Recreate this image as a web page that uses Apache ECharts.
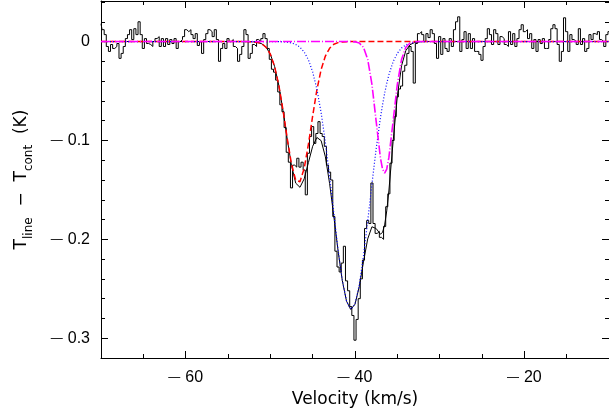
<!DOCTYPE html>
<html>
<head>
<meta charset="utf-8">
<script src="https://cdn.jsdelivr.net/npm/echarts@6/dist/echarts.min.js"></script>
<style>
  html, body { margin: 0; padding: 0; background: #ffffff; }
  #chart { width: 609px; height: 414px; }
</style>
</head>
<body>
<div id="chart"></div>
<script>
// Spectrum: first channel velocity and channel spacing (km/s)
const velStart = -70;
const chanWidth = 0.25;

// Observed line-minus-continuum temperature per channel (K)
const channelValues = [
  0.018, 0.012, 0.007, -0.005, -0.010, -0.003, -0.007, -0.005, -0.002, -0.017,
  -0.012, -0.005, 0.003, 0.007, 0.012, 0.002, 0.013, 0.007, 0.020, 0.007,
  -0.007, 0.003, -0.002, -0.003, -0.005, 0.000, 0.003, 0.005, -0.005, 0.003,
  -0.005, 0.003, -0.003, 0.002, -0.002, 0.003, -0.007, 0.000, 0.002, 0.005,
  0.012, 0.010, 0.012, 0.007, 0.003, 0.008, -0.004, 0.000, -0.012, 0.002,
  0.008, 0.012, 0.010, 0.005, 0.012, 0.002, -0.020, -0.007, -0.002, -0.007,
  0.003, 0.000, 0.002, -0.005, -0.007, -0.020, -0.013, -0.005, 0.012, 0.007,
  -0.017, -0.012, -0.003, -0.005, 0.002, 0.000, 0.003, 0.008, 0.003, -0.007,
  -0.018, -0.028, -0.031, -0.039, -0.051, -0.064, -0.071, -0.087, -0.112, -0.122,
  -0.148, -0.125, -0.127, -0.118, -0.127, -0.122, -0.130, -0.155, -0.113, -0.096,
  -0.086, -0.103, -0.093, -0.081, -0.093, -0.096, -0.106, -0.125, -0.132, -0.140,
  -0.177, -0.212, -0.228, -0.233, -0.224, -0.207, -0.242, -0.252, -0.268, -0.277,
  -0.302, -0.281, -0.260, -0.240, -0.221, -0.189, -0.181, -0.184, -0.143, -0.184,
  -0.194, -0.192, -0.198, -0.200, -0.187, -0.167, -0.154, -0.123, -0.100, -0.076,
  -0.056, -0.048, -0.045, -0.030, -0.024, -0.012, -0.005, -0.010, -0.042, -0.002,
  0.008, 0.010, 0.007, 0.000, 0.008, 0.004, 0.012, 0.008, -0.002, -0.017,
  0.005, -0.013, 0.003, -0.007, -0.010, 0.003, -0.005, 0.012, 0.020, 0.025,
  -0.010, 0.002, 0.010, -0.007, 0.008, -0.007, 0.003, -0.010, -0.010, -0.013,
  -0.019, -0.005, 0.003, 0.013, 0.007, -0.003, 0.012, 0.008, -0.003, 0.005,
  0.003, -0.003, -0.005, 0.010, -0.003, 0.008, -0.005, 0.003, 0.012, 0.017,
  0.010, 0.012, 0.003, 0.008, -0.007, 0.002, -0.010, 0.002, -0.002, 0.003,
  -0.007, -0.007, 0.002, 0.013, 0.017, 0.013, -0.003, -0.020, -0.010, 0.024,
  0.010, -0.010, 0.007, 0.002, 0.000, -0.003, 0.013, -0.003, 0.003, -0.010,
  -0.007, 0.007, 0.002, 0.008, 0.007, 0.010, 0.002, 0.000, -0.005, 0.007,
  0.010
];

// Fitted components, sampled at these velocities (km/s)
const fitVelocities = [
  -70, -53, -52.5, -52, -51.5, -51, -50.5, -50, -49.5, -49,
  -48.5, -48, -47.5, -47, -46.5, -46, -45.5, -45, -44.5, -44,
  -43.5, -43, -42.5, -42, -41.5, -41, -40.5, -40, -39.5, -39,
  -38.5, -38, -37.5, -37, -36.75, -36.5, -36.25, -36, -35.5, -35,
  -34.5, -34, -33.5, -33, -32.5, -32, -31.5, -31, -10
];
const redComponent = [
  0, 0, -0.0001, -0.0003, -0.0009, -0.0023, -0.0058, -0.0127, -0.0251, -0.0441,
  -0.0696, -0.0982, -0.1240, -0.1402, -0.1417, -0.1282, -0.1038, -0.0752, -0.0488, -0.0283,
  -0.0147, -0.0068, -0.0028, -0.0011, -0.0004, -0.0001, 0, 0, 0, 0,
  0, 0, 0, 0, 0, 0, 0, 0, 0, 0,
  0, 0, 0, 0, 0, 0, 0, 0, 0
];
const blueComponent = [
  0, 0, 0, 0, 0, 0, 0, 0, 0, -0.0001,
  -0.0003, -0.0007, -0.0014, -0.0030, -0.0057, -0.0106, -0.0185, -0.0307, -0.0482, -0.0719,
  -0.1018, -0.1367, -0.1741, -0.2105, -0.2413, -0.2625, -0.2709, -0.2653, -0.2465, -0.2172,
  -0.1816, -0.1441, -0.1084, -0.0774, -0.0641, -0.0524, -0.0423, -0.0337, -0.0205, -0.0119,
  -0.0065, -0.0034, -0.0017, -0.0008, -0.0004, -0.0001, 0, 0, 0
];
const magentaComponent = [
  0, 0, 0, 0, 0, 0, 0, 0, 0, 0,
  0, 0, 0, 0, 0, 0, 0, 0, 0, 0,
  0, 0, 0, 0, 0, 0, 0, -0.0003, -0.0015, -0.0058,
  -0.0180, -0.0432, -0.0807, -0.1174, -0.1289, -0.1330, -0.1289, -0.1174, -0.0807, -0.0432,
  -0.0180, -0.0058, -0.0015, -0.0003, 0, 0, 0, 0, 0
];
const totalFit = [
  0, 0, -0.0001, -0.0003, -0.0009, -0.0023, -0.0058, -0.0127, -0.0251, -0.0442,
  -0.0699, -0.0989, -0.1254, -0.1432, -0.1474, -0.1388, -0.1223, -0.1059, -0.0970, -0.1002,
  -0.1165, -0.1435, -0.1769, -0.2116, -0.2417, -0.2626, -0.2709, -0.2656, -0.2480, -0.2230,
  -0.1996, -0.1873, -0.1891, -0.1948, -0.1930, -0.1854, -0.1712, -0.1511, -0.1012, -0.0551,
  -0.0245, -0.0092, -0.0032, -0.0011, -0.0004, -0.0001, 0, 0, 0
];

// Labelled ticks
const xTickLabels = [-60, -40, -20];
const yTickLabels = [0, -0.1, -0.2, -0.3];

const NUM_FONT = '"Liberation Sans", Arial, sans-serif';
const TITLE_FONT = '"DejaVu Sans", sans-serif';

function hasTick(list, v) {
  return list.some(t => Math.abs(t - v) < 1e-9);
}
// Tick text with a long minus bar
function signed(v) {
  const r = Math.round(v * 1000) / 1000;
  if (r === 0) return '0';
  return r < 0 ? '{m|\u2014}' + String(Math.abs(r)) : String(r);
}

const spectrumData = channelValues.map((v, i) => [velStart + i * chanWidth, v]);
const pairs = arr => fitVelocities.map((x, i) => [x, arr[i]]);

const tickCommon = {
  axisLine: { show: true, onZero: false, lineStyle: { color: '#000', width: 1 } },
  axisTick: { show: true, inside: true, length: 7, lineStyle: { color: '#000', width: 1 } },
  minorTick: { show: true, length: 4, lineStyle: { color: '#000', width: 1 } },
  splitLine: { show: false },
  minorSplitLine: { show: false }
};

const xBase = {
  type: 'value', min: -70, max: -10, splitNumber: 3,
  ...tickCommon,
  minorTick: { ...tickCommon.minorTick, splitNumber: 4 }
};
const yBase = {
  type: 'value', min: -0.32, max: 0.041, splitNumber: 4,
  ...tickCommon,
  minorTick: { ...tickCommon.minorTick, splitNumber: 5 }
};

const labelStyle = {
  show: true, color: '#000', fontSize: 16, fontFamily: NUM_FONT,
  showMinLabel: false, showMaxLabel: false,
  rich: { m: { fontSize: 12, fontFamily: NUM_FONT, color: '#000', padding: [0, 5, 0, 0] } }
};

const chart = echarts.init(document.getElementById('chart'), null, { renderer: 'canvas' });

chart.setOption({
  animation: false,
  backgroundColor: '#ffffff',
  grid: { left: 101, right: 0, top: 1, bottom: 56, containLabel: false, outerBoundsMode: 'none' },
  xAxis: [
    {
      ...xBase, position: 'bottom',
      axisLabel: { ...labelStyle, margin: 12, formatter: v => (hasTick(xTickLabels, v) ? signed(v) : '') },
      name: 'Velocity (km/s)', nameLocation: 'middle', nameGap: 31,
      nameTextStyle: { color: '#000', fontSize: 17, fontFamily: TITLE_FONT }
    },
    { ...xBase, position: 'top', axisLabel: { show: false } }
  ],
  yAxis: [
    {
      ...yBase, position: 'left',
      axisLabel: { ...labelStyle, margin: 11, formatter: v => (hasTick(yTickLabels, v) ? signed(v) : '') },
      name: '{n|T}{s|line}{n|  \u2212  T}{s|cont}{n|  (K)}',
      nameLocation: 'middle', nameRotate: 90, nameGap: 66,
      nameTextStyle: {
        color: '#000', fontSize: 17, fontFamily: TITLE_FONT,
        rich: {
          n: { fontSize: 17, fontFamily: TITLE_FONT, color: '#000', lineHeight: 26, verticalAlign: 'middle' },
          s: { fontSize: 12, fontFamily: TITLE_FONT, color: '#000', lineHeight: 26, verticalAlign: 'bottom' }
        }
      }
    },
    { ...yBase, position: 'right', axisLabel: { show: false } }
  ],
  series: [
    {
      name: 'spectrum', type: 'line', step: 'middle', data: spectrumData,
      xAxisIndex: 0, yAxisIndex: 0, showSymbol: false, silent: true, z: 2,
      lineStyle: { color: '#000', width: 1 }
    },
    {
      name: 'total fit', type: 'line', data: pairs(totalFit),
      xAxisIndex: 0, yAxisIndex: 0, showSymbol: false, silent: true, z: 3,
      lineStyle: { color: '#000', width: 1 }
    },
    {
      name: 'component 1', type: 'line', data: pairs(redComponent),
      xAxisIndex: 0, yAxisIndex: 0, showSymbol: false, silent: true, z: 4,
      lineStyle: { color: '#ff0000', width: 1.5, type: [6, 3] }
    },
    {
      name: 'component 2', type: 'line', data: pairs(blueComponent),
      xAxisIndex: 0, yAxisIndex: 0, showSymbol: false, silent: true, z: 5,
      lineStyle: { color: '#0000ff', width: 1.2, type: [1, 2] }
    },
    {
      name: 'component 3', type: 'line', data: pairs(magentaComponent),
      xAxisIndex: 0, yAxisIndex: 0, showSymbol: false, silent: true, z: 6,
      lineStyle: { color: '#ff00ff', width: 1.6, type: [9, 2, 1, 2] }
    }
  ]
});
</script>
</body>
</html>
